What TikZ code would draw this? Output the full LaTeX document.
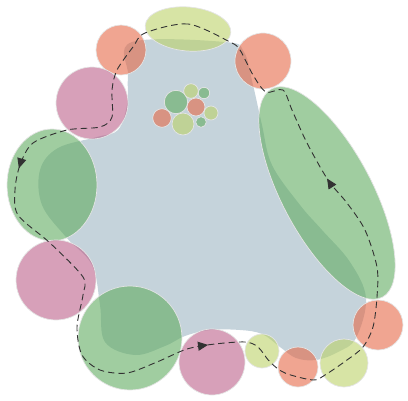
\documentclass[tikz,border=0pt]{standalone}
\usepackage{xcolor}
\usepackage{tikz}
\usetikzlibrary{arrows.meta,decorations.markings}

\definecolor{blobblue}{RGB}{197,211,219}
\definecolor{leafgreen}{RGB}{97,172,97}
\definecolor{rosepink}{RGB}{188,97,138}
\definecolor{coralred}{RGB}{230,105,72}
\definecolor{limegreen}{RGB}{188,210,105}
\definecolor{pathgray}{RGB}{50,50,50}

\begin{document}
\begin{tikzpicture}[x=1pt, y=-1pt,
    bubble/.style={fill=#1, fill opacity=0.6, draw=white!90!black, line width=0.7pt},
    route/.style={draw=pathgray, line width=0.9pt, dash pattern=on 6.5pt off 4pt,
        decoration={markings,
            mark=at position 0.212 with {\arrow{Triangle[length=10pt,width=9pt]}},
            mark=at position 0.508 with {\arrow{Triangle[length=10pt,width=9pt]}},
            mark=at position 0.812 with {\arrow{Triangle[length=10pt,width=9pt]}}},
        postaction={decorate, solid}}]
    \useasboundingbox (0,0) rectangle (408,400);

    % Central region
    \fill[blobblue] plot[smooth cycle, tension=0.6] coordinates {
        (132,42) (225,42) (244,52) (253,85) (262,125) (272,165) (300,205)
        (322,230) (350,262) (366,298) (356,338) (338,352) (316,360)
        (296,358) (280,347) (262,334) (240,330) (210,330) (185,336)
        (165,346) (135,355) (105,342) (100,305) (92,265) (66,237)
        (42,205) (40,170) (58,148) (97,137) (118,130) (127,105) (128,75)};

    % Outer ring, top
    \draw[bubble=limegreen, rotate around={-5:(188,29)}] (188,29) ellipse (43 and 22);
    \draw[bubble=coralred] (121,50) circle (25);
    \draw[bubble=coralred] (263,61) circle (28);
    \draw[bubble=rosepink] (92,103) circle (36);

    % Outer ring, left
    \draw[bubble=leafgreen] (52,185) ellipse (45 and 56);
    \draw[bubble=rosepink] (56,280) circle (40);

    % Outer ring, bottom
    \draw[bubble=leafgreen] (130,338) circle (52);
    \draw[bubble=rosepink] (212,362) circle (33);
    \draw[bubble=limegreen] (262,351) circle (17);
    \draw[bubble=coralred] (298,367) circle (20);
    \draw[bubble=limegreen] (344,363) circle (24);

    % Outer ring, right
    \draw[bubble=coralred] (378,325) circle (25);
    \draw[bubble=leafgreen, rotate around={-62:(327,193)}] (327,193) ellipse (118 and 45);

    % Inner cluster
    \draw[bubble=leafgreen] (176,102) circle (11.7);
    \draw[bubble=limegreen] (191,91) circle (7.3);
    \draw[bubble=leafgreen] (204,93) circle (5.7);
    \draw[bubble=coralred] (196,107) circle (9);
    \draw[bubble=coralred] (162,118) circle (9.3);
    \draw[bubble=limegreen] (183,124) circle (11);
    \draw[bubble=leafgreen] (201,122) circle (5.3);
    \draw[bubble=limegreen] (211,113) circle (7);

    % Route
    \draw[route] plot[smooth cycle, tension=0.5] coordinates {
        (230,42) (188,24) (145,33) (133,47) (117,70) (112,90) (112,117)
        (100,127) (67,130) (33,143) (20,165) (15,190) (18,215) (50,243)
        (83,277) (83,295) (77,327) (82,355) (100,370) (127,373) (157,362)
        (187,349) (215,344) (245,342) (258,347) (270,362) (285,373)
        (313,380) (325,375) (347,360) (363,347) (373,327) (377,297)
        (377,267) (365,230) (347,203) (328,180) (307,143) (292,110)
        (283,90) (266,92) (253,75) (240,50)};
\end{tikzpicture}
\end{document}
